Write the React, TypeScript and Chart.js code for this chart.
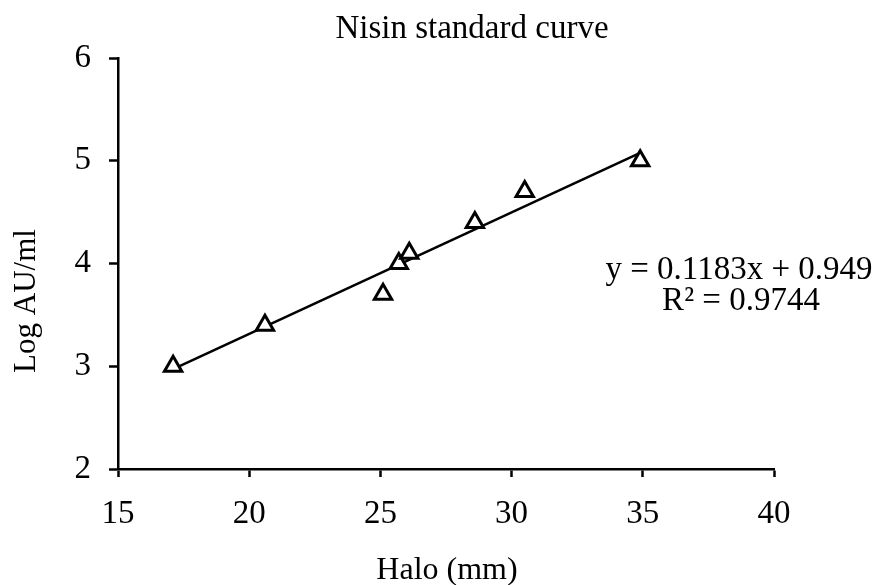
import React, { useEffect, useRef } from "react";
import { Chart, registerables } from "chart.js";

Chart.register(...registerables);

// ---- data ----
const haloMm = [17.1, 20.6, 25.1, 25.7, 26.1, 28.6, 30.5, 34.9];
const logAU = [3.0, 3.4, 3.7, 4.0, 4.1, 4.4, 4.7, 5.0];
const xTickValues = [15, 20, 25, 30, 35, 40];
const yTickValues = [2, 3, 4, 5, 6];
const TREND_SLOPE = 0.1183;
const TREND_INTERCEPT = 0.949;
const TITLE = "Nisin standard curve";
const X_TITLE = "Halo (mm)";
const Y_TITLE = "Log AU/ml";
const EQ_LINES = ["y = 0.1183x + 0.949", "R\u00b2 = 0.9744"];

const FONT = '"Liberation Serif", "Times New Roman", serif';

function drawText(
  ctx: CanvasRenderingContext2D,
  text: string,
  x: number,
  y: number,
  size: number
) {
  ctx.save();
  ctx.font = `${size}px ${FONT}`;
  ctx.textAlign = "center";
  ctx.textBaseline = "alphabetic";
  ctx.fillText(text, x, y);
  ctx.restore();
}

const textPlugin = {
  id: "customText",
  afterDraw(chart: any) {
    const ctx: CanvasRenderingContext2D = chart.ctx;
    ctx.save();
    ctx.fillStyle = "#000";
    drawText(ctx, TITLE, 472, 38, 33);
    drawText(ctx, EQ_LINES[0], 739, 279, 33);
    drawText(ctx, EQ_LINES[1], 741, 310, 33);
    drawText(ctx, X_TITLE, 447, 579, 32);
    ctx.save();
    ctx.font = `31px ${FONT}`;
    ctx.translate(35, 301);
    ctx.rotate(-Math.PI / 2);
    ctx.textAlign = "center";
    ctx.textBaseline = "alphabetic";
    ctx.fillText(Y_TITLE, 0, 0);
    ctx.restore();
    ctx.restore();
  },
};

export default function App() {
  const ref = useRef<HTMLCanvasElement | null>(null);

  useEffect(() => {
    if (!ref.current) return;
    const xMin = Math.min(...haloMm);
    const xMax = Math.max(...haloMm);
    const trend = [xMin, xMax].map((x) => ({ x, y: TREND_SLOPE * x + TREND_INTERCEPT }));
    const points = haloMm.map((x, i) => ({ x, y: logAU[i] }));

    const chart = new Chart(ref.current, {
      type: "scatter",
      data: {
        datasets: [
          {
            type: "line",
            data: trend,
            borderColor: "#000",
            borderWidth: 2.5,
            pointRadius: 0,
            fill: false,
            order: 2,
          } as any,
          {
            data: points,
            pointStyle: "triangle",
            pointRadius: 10,
            pointBorderWidth: 3,
            pointBorderColor: "#000",
            pointBackgroundColor: "#fff",
            order: 1,
          } as any,
        ],
      },
      options: {
        responsive: false,
        animation: false,
        events: [],
        layout: { padding: { left: 0, top: 58, right: 106, bottom: 0 } },
        plugins: {
          legend: { display: false },
          tooltip: { enabled: false },
          title: { display: false },
        },
        scales: {
          x: {
            type: "linear",
            min: xTickValues[0],
            max: xTickValues[xTickValues.length - 1],
            afterBuildTicks: (s: any) => {
              s.ticks = xTickValues.map((v) => ({ value: v }));
            },
            afterFit: (s: any) => {
              s.height = 116;
            },
            ticks: {
              color: "#000",
              font: { family: FONT, size: 33 },
              padding: 18,
              maxRotation: 0,
            },
            grid: {
              drawOnChartArea: false,
              drawTicks: true,
              tickLength: 8,
              tickColor: "#000",
              tickWidth: 2.5,
            },
            border: { color: "#000", width: 2.5 },
          },
          y: {
            type: "linear",
            min: yTickValues[0],
            max: yTickValues[yTickValues.length - 1],
            afterBuildTicks: (s: any) => {
              s.ticks = yTickValues.map((v) => ({ value: v }));
            },
            afterFit: (s: any) => {
              s.width = 118;
            },
            ticks: {
              color: "#000",
              font: { family: FONT, size: 33 },
              padding: 18,
            },
            grid: {
              drawOnChartArea: false,
              drawTicks: true,
              tickLength: 9,
              tickColor: "#000",
              tickWidth: 2.5,
            },
            border: { color: "#000", width: 2.5 },
          },
        },
      } as any,
      plugins: [textPlugin],
    });
    return () => chart.destroy();
  }, []);

  return (
    <div style={{ position: "absolute", left: 0, top: 0, width: 880, height: 585, background: "#fff" }}>
      <canvas ref={ref} width={880} height={585} />
    </div>
  );
}
